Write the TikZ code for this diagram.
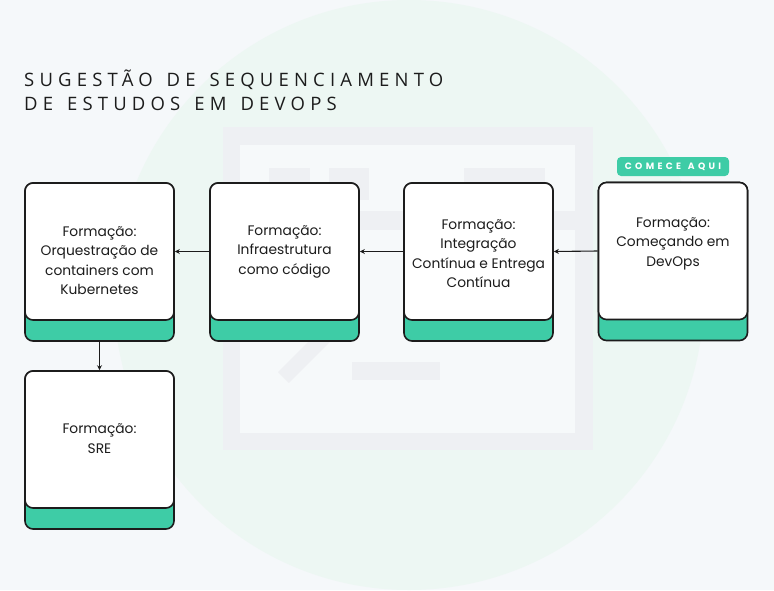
\documentclass[tikz,border=0pt]{standalone}
\usepackage{fontspec}
\setmainfont{Poppins}
\newfontfamily\titlefont[LetterSpace=28, WordSpace=1.4]{Open Sans}
\newfontfamily\badgefont[LetterSpace=36, WordSpace=1.3]{Poppins}
\usetikzlibrary{positioning,arrows.meta}
\definecolor{pagebg}{HTML}{F5F8FA}
\definecolor{blob}{HTML}{EDF7F3}
\definecolor{markgray}{HTML}{EEF0F3}
\definecolor{markin}{HTML}{F6F9FA}
\definecolor{accent}{HTML}{3ECCA6}
\definecolor{ink}{HTML}{1C1C1C}
\tikzset{
  cardbase/.style={draw=ink, line width=1.6pt, fill=accent, rounded corners=8pt, minimum width=149pt, minimum height=158pt, inner sep=0pt},
  cardface/.style={draw=ink, line width=1.6pt, fill=white, rounded corners=8pt, minimum width=149pt, minimum height=137pt, inner sep=0pt, anchor=north},
  cardtext/.style={align=center, text=ink, font=\fontsize{13.8}{19.5}\selectfont},
  flowarrow/.style={-{Stealth[length=5pt, width=5pt]}, line width=1.1pt, draw=ink},
  badge/.style={fill=accent, rounded corners=4pt, minimum width=112pt, minimum height=19pt, inner sep=0pt, text=white, font=\badgefont\bfseries\fontsize{9.2}{10}\selectfont},
  heading/.style={anchor=north west, align=left, inner sep=0pt, text=ink, font=\titlefont\fontsize{18.5}{24}\selectfont}
}

\begin{document}
\begin{tikzpicture}[x=1pt, y=-1pt]
  \useasboundingbox (0,0) rectangle (774,590);
  % background and watermark
  \fill[pagebg] (0,0) rectangle (774,590);
  \fill[blob] (409,295) circle[radius=295];
  \fill[markgray] (223,127) rectangle (593,450);
  \fill[markin] (240,145) rectangle (575,433);
  \fill[markgray] (240,211) rectangle (575,230);
  \fill[markgray] (269,168) rectangle (310,200);
  \fill[markgray] (329,168) rectangle (369,200);
  \fill[markgray] (464,168) rectangle (545,200);
  \draw[markgray, line width=15.5pt] (283.5,377.5) -- (345,316);
  \fill[markgray] (352,362) rectangle (440,380);

  \node[heading] (title) at (24,70) {SUGESTÃO DE SEQUENCIAMENTO\\DE ESTUDOS EM DEVOPS};

  % cards
  \node[cardbase] (kube) at (99.5,262) {};
  \node[cardface] (kubeface) at (kube.north) {};
  \node[cardtext] (kubetx) at ([yshift=-9pt]kubeface.center) {Formação:\\Orquestração de\\containers com\\Kubernetes};

  \node[cardbase] (infra) at (284.5,262) {};
  \node[cardface] (infraface) at (infra.north) {};
  \node[cardtext] (infratx) at (infraface.center) {Formação:\\Infraestrutura\\como código};

  \node[cardbase] (cicd) at (478.5,262) {};
  \node[cardface] (cicdface) at (cicd.north) {};
  \node[cardtext] (cicdtx) at ([yshift=-2pt]cicdface.center) {Formação:\\Integração\\Contínua e Entrega\\Contínua};

  \node[cardbase] (start) at (673,261.5) {};
  \node[cardface] (startface) at (start.north) {};
  \node[cardtext] (starttx) at ([yshift=7.5pt]startface.center) {Formação:\\Começando em\\DevOps};
  \node[badge] (here) at (673,166.5) {COMECE AQUI};

  \node[cardbase] (sre) at (99.5,450) {};
  \node[cardface] (sreface) at (sre.north) {};
  \node[cardtext] (sretx) at ([yshift=1pt]sreface.center) {Formação:\\SRE};

  % sequence
  \draw[flowarrow] (startface.west) -- (cicdface.east);
  \draw[flowarrow] (cicdface.west) -- (infraface.east);
  \draw[flowarrow] (infraface.west) -- (kubeface.east);
  \draw[flowarrow] (kube.south) -- (sre.north);
\end{tikzpicture}
\end{document}
